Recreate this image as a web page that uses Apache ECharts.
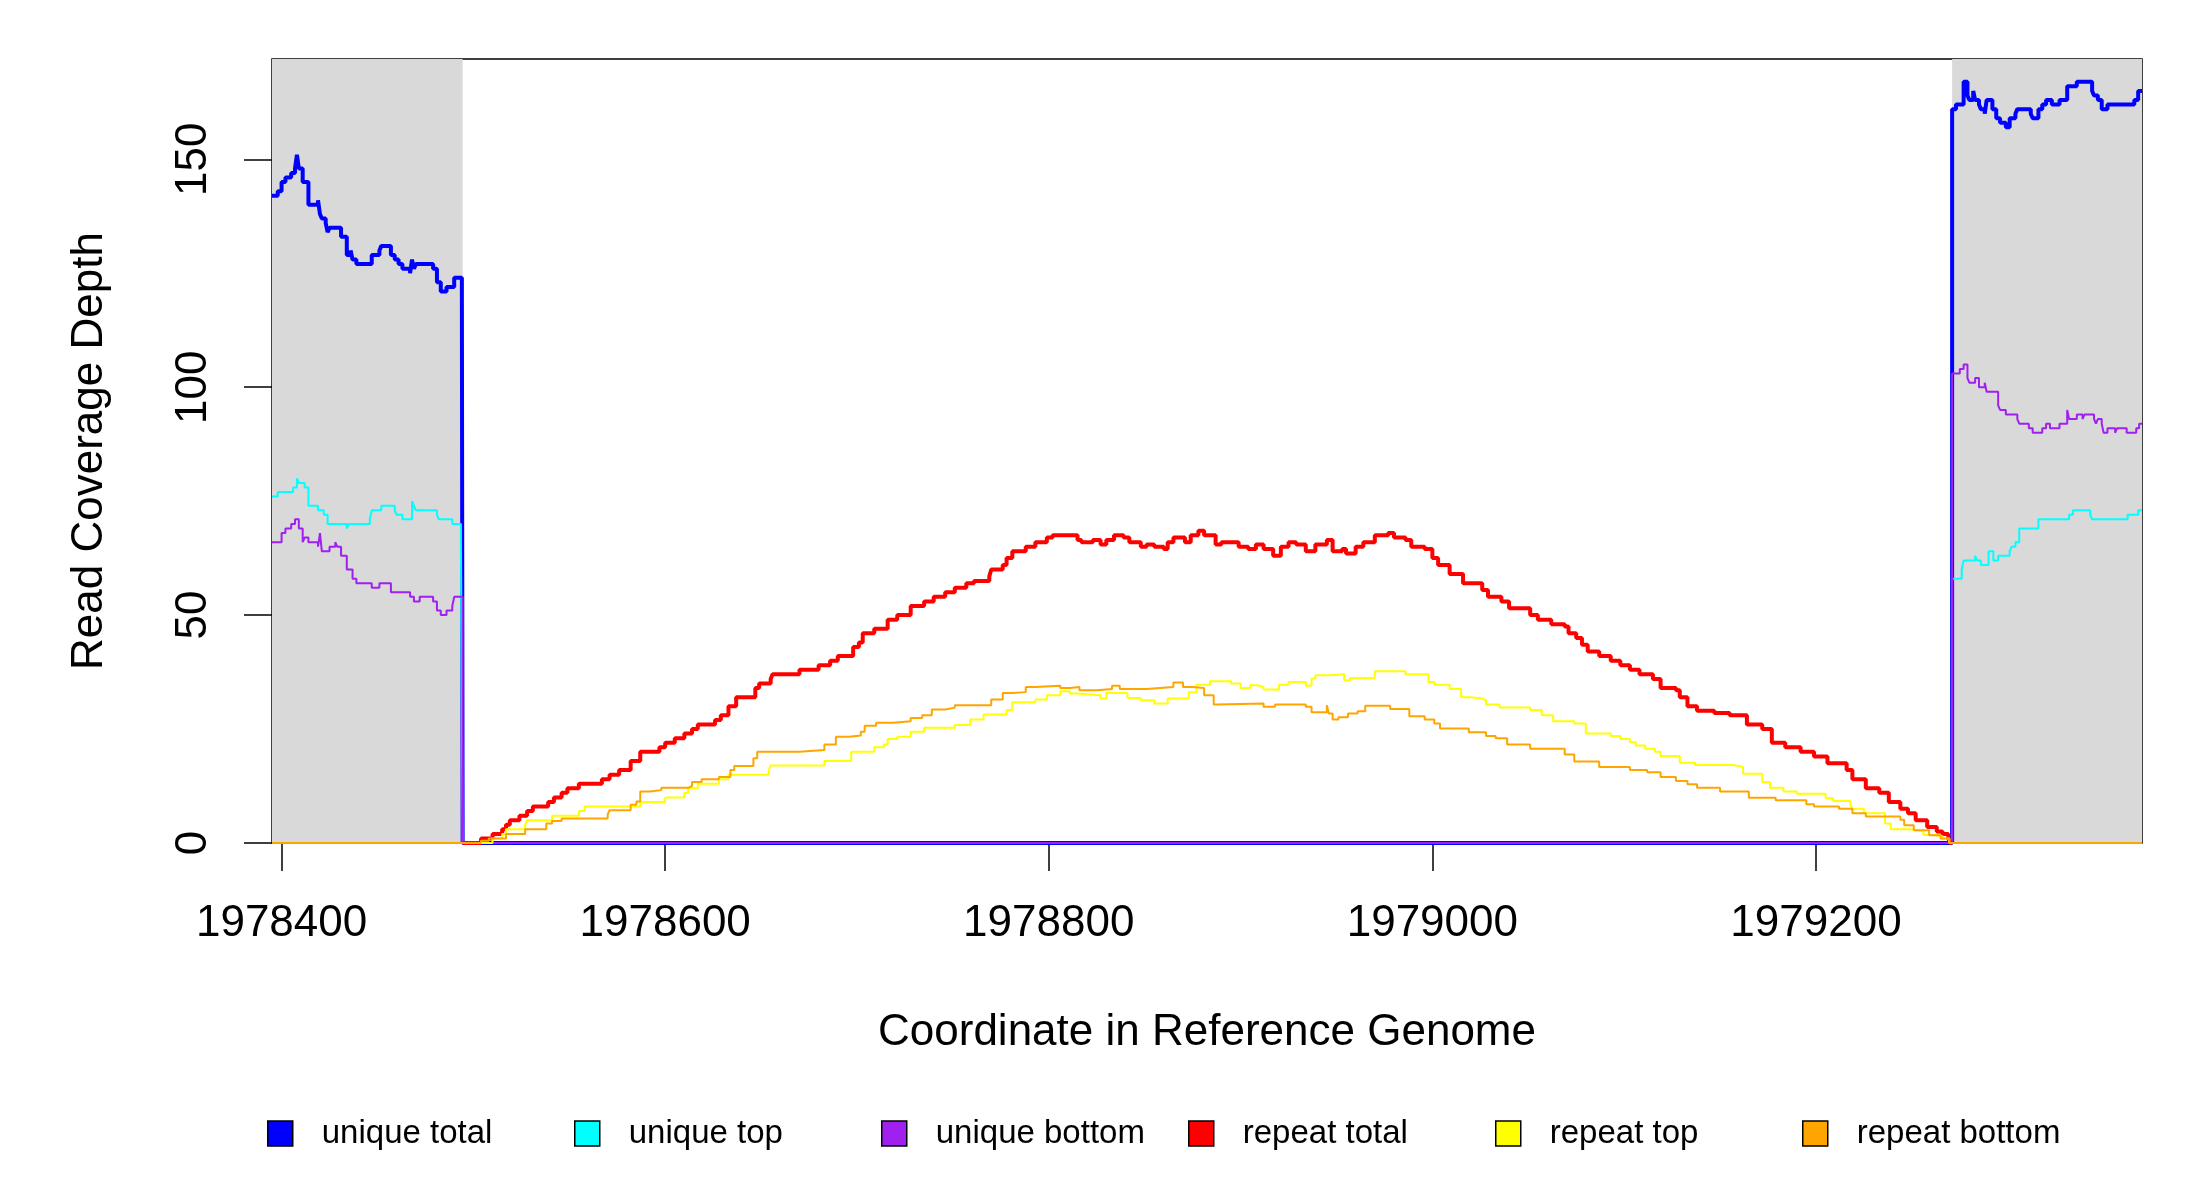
<!DOCTYPE html>
<html>
<head>
<meta charset="utf-8">
<script src="https://cdn.jsdelivr.net/npm/echarts@6/dist/echarts.min.js"></script>
<style>
  html, body { margin: 0; padding: 0; background: #fff; }
  #chart { width: 2200px; height: 1200px; }
</style>
</head>
<body>
<div id="chart"></div>
<script>
// [position, depth] change points (step lines)
const uniqueTotal = [
  [1978395,142],[1978398,143],[1978400,145],[1978402,146],[1978405,147],[1978407,148],[1978408,151],[1978409,148],
  [1978411,145],[1978414,140],[1978419,141],[1978420,138],[1978421,137],[1978423,136],[1978424,134],[1978425,135],
  [1978431,133],[1978434,129],[1978436,130],[1978437,128],[1978439,127],[1978447,129],[1978451,130],[1978452,131],
  [1978457,129],[1978459,128],[1978461,127],[1978463,126],[1978467,125],[1978468,128],[1978469,126],[1978470,127],
  [1978479,126],[1978481,123],[1978483,121],[1978486,122],[1978490,124],[1978494,120],[1978494.4,0],
  [1979271,161],[1979273,162],[1979277,167],[1979279,164],[1979280,163],[1979282,165],[1979283,163],[1979285,162],
  [1979286,161],[1979288,160],[1979289,163],[1979292,161],[1979294,159],[1979296,158],[1979299,157],[1979301,159],
  [1979304,160],[1979305,161],[1979312,160],[1979313,159],[1979316,161],[1979318,162],[1979320,163],[1979323,162],
  [1979327,163],[1979331,166],[1979336,167],[1979344,165],[1979345,164],[1979347,163],[1979349,161],[1979352,162],
  [1979366,163],[1979368,165],[1979370,165]
]
const uniqueTop = [
  [1978395,76],[1978398,77],[1978406,78],[1978408,80],[1978409,79],[1978412,78],[1978414,74],[1978419,73],
  [1978422,72],[1978424,70],[1978434,69],[1978435,70],[1978446,71],[1978447,73],[1978452,74],[1978459,73],
  [1978460,72],[1978463,71],[1978468,75],[1978469,74],[1978470,73],[1978481,72],[1978482,71],[1978489,70],
  [1978493.5,66],[1978494.4,0],
  [1979271,58],[1979276,60],[1979277,62],[1979283,63],[1979284,62],[1979286,61],[1979290,64],[1979292.5,62],
  [1979295,63],[1979301,64],[1979302,65],[1979304,66],[1979306,69],[1979316,71],[1979332,72],[1979334,73],
  [1979343,72],[1979344,71],[1979362.5,72],[1979368,73],[1979370,73]
]
const uniqueBottom = [
  [1978395,66],[1978400,68],[1978402,69],[1978405,70],[1978407,71],[1978409,69],[1978411,66],[1978412,67],
  [1978414,66],[1978419,65],[1978420,68],[1978421,64],[1978425,65],[1978428,66],[1978429,65],[1978431,63],
  [1978434,60],[1978437,58],[1978439,57],[1978447,56],[1978451,57],[1978457,55],[1978467,54],[1978469,53],
  [1978472,54],[1978479,53],[1978481,51],[1978483,50],[1978486,51],[1978489,52],[1978490,54],[1978494.4,0],
  [1979271,103],[1979275,104],[1979277,105],[1979279,102],[1979280,101],[1979283,102],[1979285,100],[1979288,101],
  [1979289,99],[1979295,96],[1979296,95],[1979299,94],[1979305,93],[1979306,92],[1979311,91],[1979313,90],
  [1979318,91],[1979320,92],[1979322,91],[1979327,92],[1979331,95],[1979331.5,94],[1979332,93],[1979336,94],
  [1979339,93],[1979340,94],[1979345,93],[1979346,92],[1979347,93],[1979349,92],[1979350,90],[1979352,91],
  [1979356,90],[1979357,91],[1979362,90],[1979367,91],[1979368.5,92],[1979370,92]
]
const repeatTotal = [
  [1978494.4,0],[1978504,1],[1978510,2],[1978515,3],[1978517,4],[1978519,5],[1978524,6],[1978528,7],
  [1978531,8],[1978539,9],[1978542,10],[1978546,11],[1978549,12],[1978555,13],[1978567,14],[1978571,15],
  [1978576,16],[1978582,18],[1978587,20],[1978597,21],[1978600,22],[1978605,23],[1978610,24],[1978614,25],
  [1978617,26],[1978626,27],[1978629,28],[1978633,30],[1978637,32],[1978647,34],[1978649,35],[1978655,36],
  [1978656,37],[1978670,38],[1978680,39],[1978686,40],[1978690,41],[1978698,43],[1978701,44],[1978703,46],
  [1978709,47],[1978716,49],[1978721,50],[1978728,52],[1978735,53],[1978740,54],[1978746,55],[1978751,56],
  [1978757,57],[1978761,57.5],[1978769,58.5],[1978770,60],[1978776,61],[1978778,62.5],[1978781,64],[1978788,65],
  [1978793,66],[1978799,67],[1978802,67.5],[1978815,66.5],[1978817,66],[1978823,66.5],[1978827,65.5],[1978830,66.5],
  [1978834,67.5],[1978839,67],[1978842,66],[1978848,65],[1978851,65.5],[1978855,65],[1978860,64.5],[1978862,66],
  [1978865,67],[1978871,66],[1978874,67.5],[1978878,68.5],[1978881,67.5],[1978887,65.5],[1978890,66],[1978899,65],
  [1978904,64.5],[1978908,65.5],[1978912,64.5],[1978917,63],[1978921,65],[1978925,66],[1978929,65.5],[1978934,64],
  [1978939,65.5],[1978945,66.5],[1978948,64],[1978953,64.5],[1978955,63.5],[1978960,65],[1978964,66],[1978970,67.5],
  [1978977,68],[1978980,67],[1978986,66.5],[1978989,65],[1978996,64.5],[1979000,62.5],[1979003,61],[1979009,59],
  [1979016,57],[1979026,55.5],[1979029,54],[1979036,53],[1979040,51.5],[1979051,50],[1979055,49],[1979062,48],
  [1979069,47.5],[1979071,46],[1979075,45],[1979078,43.5],[1979081,42],[1979087,41],[1979093,40],[1979098,39],
  [1979103,38],[1979108,37],[1979115,36],[1979119,34],[1979127,33.5],[1979129,32],[1979133,30],[1979138,29],
  [1979147,28.5],[1979155,28],[1979164,26],[1979172,25],[1979177,22],[1979184,21],[1979192,20],[1979199,19],
  [1979206,17.5],[1979216,16],[1979219,14],[1979226,12],[1979233,11],[1979238,9],[1979244,7.5],[1979248,6.5],
  [1979252,5],[1979258,3.5],[1979263,2.5],[1979266,2],[1979269,1],[1979270,0],[1979271,0]
]
const repeatTop = [
  [1978395,0],[1978510,1],[1978515,2],[1978517,3],[1978527,4],[1978528,5],[1978541,6],[1978555,7],
  [1978558,8],[1978587,9],[1978600,10],[1978610,11],[1978612,12],[1978617,13],[1978628,14],[1978633,15],
  [1978654,16],[1978655,17],[1978683,18],[1978697,20],[1978709,21],[1978714,21.6],[1978716,22.8],[1978721,23.3],
  [1978728,24.4],[1978735,25.3],[1978751,25.9],[1978759,27.1],[1978766,28.2],[1978778,29.2],[1978781,30.9],[1978793,31.5],
  [1978799,32.4],[1978806,33.3],[1978811,32.8],[1978815,32.4],[1978827,31.7],[1978830,32.9],[1978841,31.8],[1978848,31.3],
  [1978855,30.6],[1978862,31.7],[1978873,33.1],[1978877,34.7],[1978884,35.5],[1978895,35],[1978900,34],[1978905,34.6],
  [1978909,34.2],[1978912,33.7],[1978920,34.7],[1978925,35.3],[1978934,34.5],[1978937,36.1],[1978939,36.8],[1978947,37],
  [1978954,35.7],[1978957,36.2],[1978970,37.7],[1978986,37],[1978998,35.3],[1979001,34.7],[1979009,33.8],[1979015,32],
  [1979020,31.7],[1979026,31.3],[1979028,30.4],[1979035,29.7],[1979051,29.2],[1979057,28],[1979063,26.7],[1979074,26.2],
  [1979080,24],[1979093,23.5],[1979098,22.8],[1979103,22.1],[1979106,21.4],[1979111,20.7],[1979116,20],[1979119,19.1],
  [1979129,17.6],[1979137,17.1],[1979157,16.7],[1979162,15.2],[1979172,13.4],[1979176,12.1],[1979183,11.3],[1979190,10.8],
  [1979205,9.8],[1979209,9.2],[1979218,8.4],[1979219,7.5],[1979225,6.5],[1979236,4.3],[1979239,3],[1979249,2.6],
  [1979256,1.8],[1979261,1.5],[1979266,1],[1979269.5,0],[1979370,0]
]
const repeatBottom = [
  [1978395,0],[1978504,0.5],[1978508,1],[1978517,2],[1978527,3],[1978538,4.3],[1978541,4.8],[1978546,5.4],
  [1978570,6.2],[1978571,7.2],[1978582,8.4],[1978585,9.1],[1978587,11.3],[1978592,11.6],[1978598,12.1],[1978612,12.5],
  [1978614,13.4],[1978619,14],[1978628,14.5],[1978634,16],[1978636,16.9],[1978646,18.6],[1978648,20],[1978670,20.4],
  [1978683,21.6],[1978689,23.3],[1978696,23.6],[1978702,24.4],[1978704,25.7],[1978710,26.4],[1978719,26.7],[1978728,27.4],
  [1978734,28],[1978739,29.3],[1978746,29.7],[1978751,30.2],[1978770,31.5],[1978776,32.9],[1978781,33.1],[1978788,34.2],
  [1978793,34.5],[1978806,34],[1978811,34.2],[1978816,33.5],[1978825,33.8],[1978833,34.5],[1978837,33.8],[1978851,34.2],
  [1978865,35.2],[1978870,34.2],[1978875,34],[1978881,32.4],[1978886,30.4],[1978888,30.6],[1978912,29.9],[1978918,30.4],
  [1978934,29.9],[1978937,28.7],[1978945,30.2],[1978946,28.4],[1978948,27.1],[1978951,27.6],[1978956,28.4],[1978961,28.9],
  [1978965,30.1],[1978978,29.4],[1978988,27.8],[1978996,27.1],[1979001,26.2],[1979004,25.1],[1979019,24.3],[1979028,23.5],
  [1979033,23],[1979039,21.6],[1979051,20.7],[1979069,19.4],[1979074,17.9],[1979087,16.7],[1979103,16],[1979112,15.5],
  [1979119,14.5],[1979127,13.6],[1979133,12.9],[1979138,12.1],[1979150,11.3],[1979165,9.9],[1979179,9.4],[1979195,8.5],
  [1979199,8],[1979212,7.5],[1979219,6.5],[1979226,5.8],[1979244,5.1],[1979246,3.9],[1979251,2.8],[1979259,1.7],
  [1979265,1],[1979269.5,0],[1979370,0]
]

const xRange = [1978395, 1979370]
const flankLeft = [1978395, 1978494.4]
const flankRight = [1979271, 1979370]
const xTicks = [1978400, 1978600, 1978800, 1979000, 1979200]
const yMax = 172

const FONT = 'Liberation Sans, Arial, sans-serif'

const seriesDefs = [
  { name: 'unique total', data: uniqueTotal, color: '#0000FF', width: 4 },
  { name: 'unique top', data: uniqueTop, color: '#00FFFF', width: 2 },
  { name: 'unique bottom', data: uniqueBottom, color: '#A020F0', width: 2 },
  { name: 'repeat total', data: repeatTotal, color: '#FF0000', width: 4 },
  { name: 'repeat top', data: repeatTop, color: '#FFFF00', width: 2 },
  { name: 'repeat bottom', data: repeatBottom, color: '#FFA500', width: 2 },
]

const tickStyle = { color: '#000', width: 1.5 }

const myChart = echarts.init(document.getElementById('chart'), null, { renderer: 'canvas' })

const series = seriesDefs.map((s) => {
  return {
    name: s.name,
    type: 'line',
    step: 'end',
    data: s.data,
    showSymbol: false,
    symbol: 'none',
    z: 2,
    itemStyle: { color: s.color },
    lineStyle: { color: s.color, width: s.width },
  }
})

// gray flanking regions
series.unshift({
  type: 'line',
  data: [],
  z: -1,
  silent: true,
  markArea: {
    silent: true,
    itemStyle: { color: '#D9D9D9' },
    data: [
      [{ xAxis: flankLeft[0] }, { xAxis: flankLeft[1] }],
      [{ xAxis: flankRight[0] }, { xAxis: flankRight[1] }],
    ],
  },
})

// one legend per entry so the entries sit on an even pitch like the R legend
const legends = seriesDefs.map((s, i) => {
  return {
    left: 262 + i * 307,
    top: 1112,
    icon: 'rect',
    itemWidth: 25,
    itemHeight: 25,
    selectedMode: false,
    itemStyle: { borderColor: '#000', borderWidth: 1.5 },
    textStyle: { fontSize: 33, fontFamily: FONT, color: '#000', padding: [0, 0, 0, 24] },
    data: [s.name],
  }
})

const option = {
  animation: false,
  backgroundColor: '#fff',
  grid: {
    left: 272,
    right: 58,
    top: 59,
    bottom: 357,
    show: true,
    borderColor: '#000',
    borderWidth: 1.5,
    backgroundColor: 'transparent',
  },
  xAxis: {
    type: 'value',
    min: xRange[0],
    max: xRange[1],
    splitLine: { show: false },
    axisLine: { show: false },
    axisTick: { show: true, length: 28, customValues: xTicks, lineStyle: tickStyle },
    axisLabel: {
      customValues: xTicks,
      formatter: (v) => String(v),
      fontSize: 44,
      fontFamily: FONT,
      color: '#000',
      margin: 59,
    },
    name: 'Coordinate in Reference Genome',
    nameLocation: 'middle',
    nameGap: 168,
    nameTextStyle: { fontSize: 44, fontFamily: FONT, color: '#000' },
  },
  yAxis: {
    type: 'value',
    min: 0,
    max: yMax,
    interval: 50,
    splitLine: { show: false },
    axisLine: { show: false },
    axisTick: { show: true, length: 28, lineStyle: tickStyle },
    axisLabel: {
      rotate: 90,
      fontSize: 44,
      fontFamily: FONT,
      color: '#000',
      margin: 56,
      showMaxLabel: false,
    },
    name: 'Read Coverage Depth',
    nameLocation: 'middle',
    nameGap: 160,
    nameTextStyle: { fontSize: 44, fontFamily: FONT, color: '#000' },
  },
  legend: legends,
  series: series,
}

myChart.setOption(option)
</script>
</body>
</html>
